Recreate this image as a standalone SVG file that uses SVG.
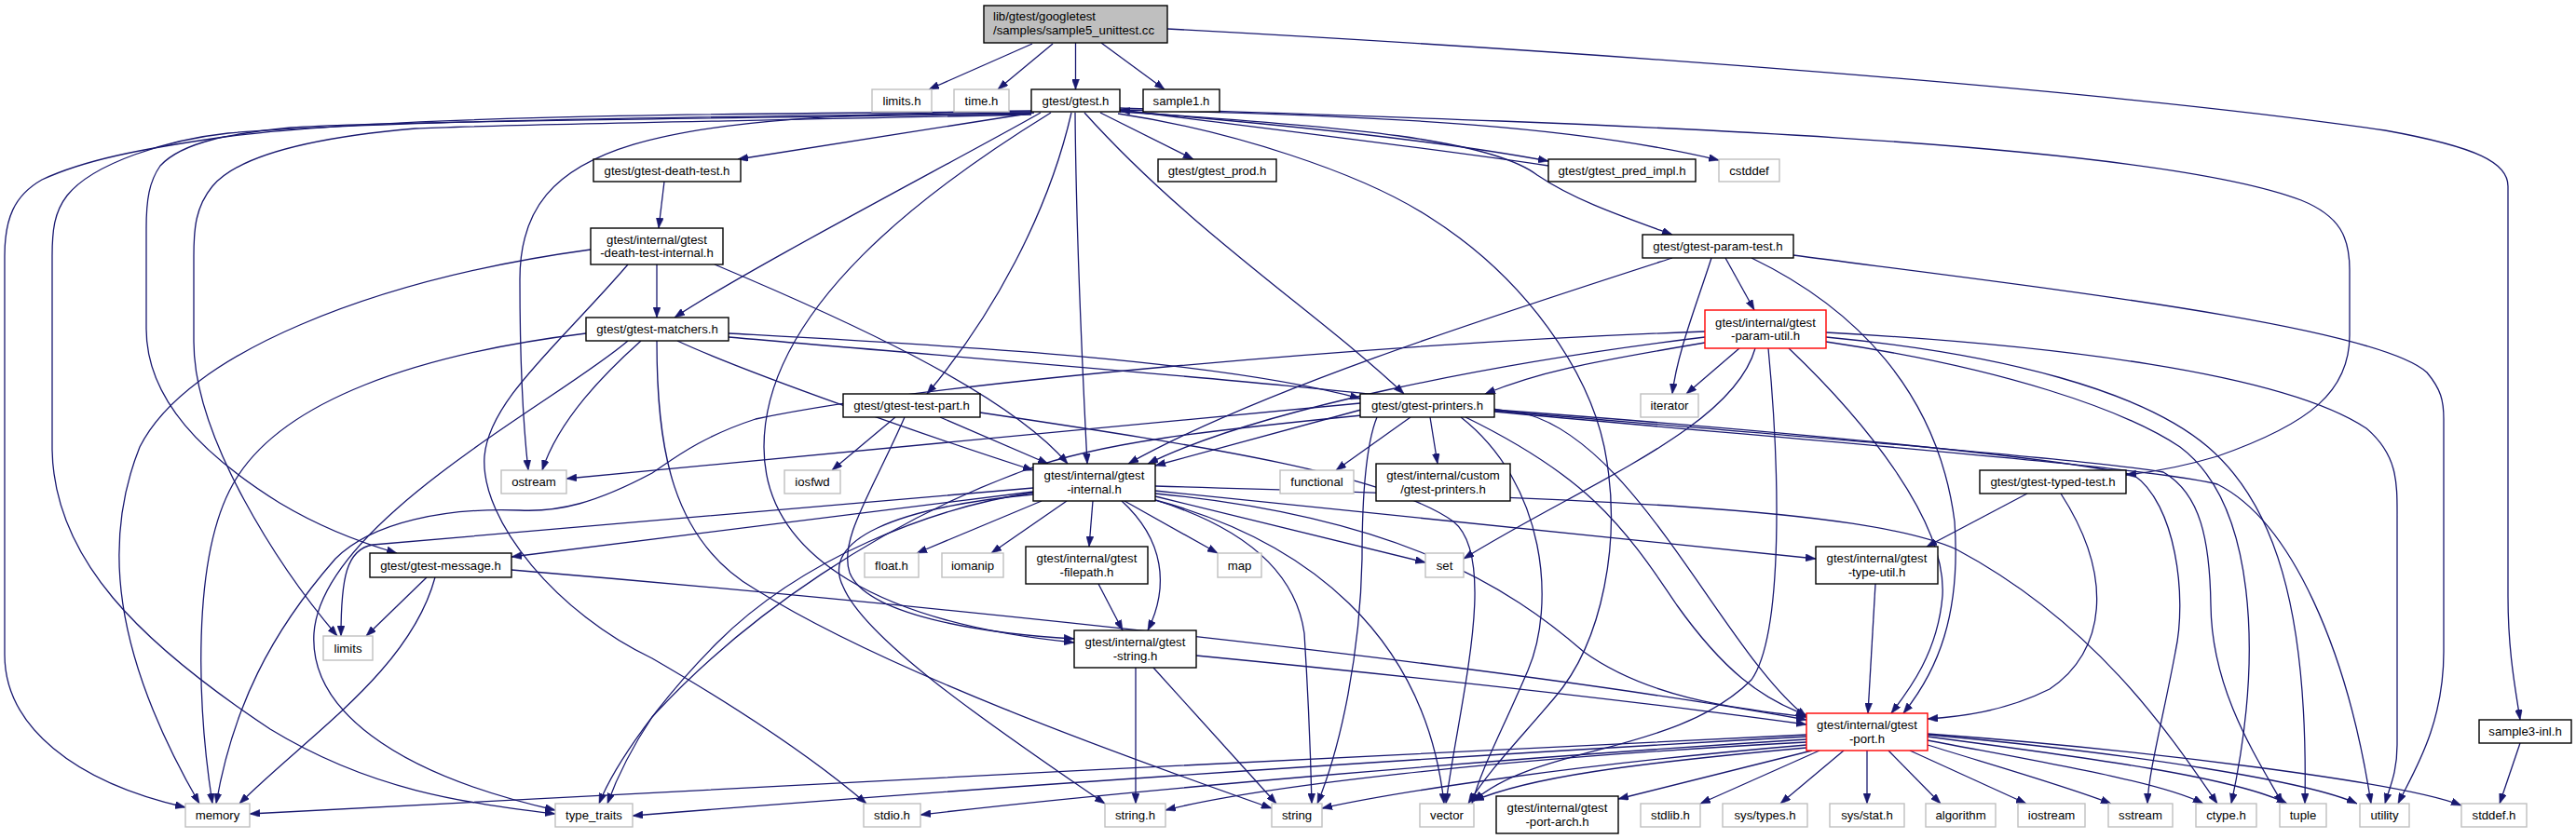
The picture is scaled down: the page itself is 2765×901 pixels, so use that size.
<svg xmlns="http://www.w3.org/2000/svg" width="2765" height="901" viewBox="0 0 2765 901">
<style>
.nd rect{fill:#fff;stroke:#000;stroke-width:1.4}
.nd.gr rect{stroke:#bfbfbf}
.nd.rd rect{stroke:#ff0000}
.nd.root rect{fill:#bfbfbf}
text{font-family:"Liberation Sans",Arial,Helvetica,sans-serif;font-size:13.2px;fill:#000;text-anchor:middle}
.root text{text-anchor:start}
#edges path{fill:none;stroke:#191970;stroke-width:1.3;marker-end:url(#a)}
</style>
<defs>
<marker id="a" viewBox="0 0 11 8" refX="11" refY="4" markerWidth="11" markerHeight="8" markerUnits="userSpaceOnUse" orient="auto"><path d="M0,0 L11,4 L0,8 z" fill="#191970" stroke="#191970" stroke-width="0.5"/></marker>
</defs>
<rect width="2765" height="901" fill="#fff"/>
<g id="edges">
<path d="M1108,47 L997,96"/>
<path d="M1130,47 L1071,96"/>
<path d="M1154.5,46 L1154.5,96"/>
<path d="M1182,46 L1250,96"/>
<path d="M1253,31 C1700,55 2250,95 2560,140 C2660,158 2692,175 2692,200 L2692,640 C2692,700 2700,740 2705,773"/>
<path d="M2705,798 L2683,863"/>
<path d="M1110,121 L792,171"/>
<path d="M1117,121 C1040,165 800,290 724,341"/>
<path d="M1150,121 C1125,230 1065,340 995,423"/>
<path d="M1154,121 C1155,250 1162,400 1167,498"/>
<path d="M1128,121 C1000,200 820,330 820,480 C820,600 950,670 1153,690"/>
<path d="M1107,119 C700,124 558,150 558,300 C558,400 562,460 567,505"/>
<path d="M1107,120 C700,122 400,126 241,147 C150,160 90,172 45,193 C15,210 5,235 5,275 L5,703 C5,780 80,840 199,867"/>
<path d="M1107,121 C800,125 400,129 245,143 C180,150 100,175 72,210 C58,228 56,248 56,275 L56,483 C58,600 150,690 290,783 C400,850 500,862 596,874"/>
<path d="M1107,122 C700,128 400,131 312,137 C250,143 196,152 172,178 C160,195 157,215 157,245 L157,353 C157,430 220,490 300,540 C350,570 395,585 426,594"/>
<path d="M1107,123 C800,130 520,134 446,138 C330,148 255,168 228,200 C210,222 208,245 208,275 L208,367 C208,470 300,610 362,683"/>
<path d="M1202,118 C1500,124 1700,137 1845,172"/>
<path d="M1202,119 C1400,136 1550,152 1662,173"/>
<path d="M1662,178 C1550,161 1400,143 1202,118"/>
<path d="M1181,121 L1281,171"/>
<path d="M1202,120 C1450,136 1600,150 1650,188 C1690,215 1740,232 1795,252"/>
<path d="M1202,116 C1700,132 2300,150 2470,215 C2512,232 2522,255 2522,290 L2522,360 C2522,420 2480,455 2380,490 C2340,502 2310,507 2282,510"/>
<path d="M1164,121 C1280,250 1420,340 1507,423"/>
<path d="M1200,122 C1320,140 1460,185 1534,233 C1640,300 1705,400 1722,480 C1742,580 1720,690 1668,750 C1630,795 1600,825 1576,863"/>
<path d="M713,195 L707,245"/>
<path d="M705,284 L705,341"/>
<path d="M767,284 C900,340 1080,420 1146,498"/>
<path d="M674,284 C600,370 525,430 520,490 C515,560 600,660 700,707 C800,765 880,820 930,863"/>
<path d="M634,268 C400,300 200,380 150,480 C110,580 120,700 214,863"/>
<path d="M629,358 C450,380 300,430 250,520 C205,600 212,760 228,863"/>
<path d="M688,366 C650,400 600,450 582,505"/>
<path d="M674,366 C600,430 345,560 337,680 C332,760 420,830 596,870"/>
<path d="M705,366 C705,480 720,580 811,633 C950,720 1200,810 1365,868"/>
<path d="M727,366 C800,400 1000,470 1109,505"/>
<path d="M782,358 C1000,370 1300,385 1460,428"/>
<path d="M782,362 C1100,390 1500,420 1640,445 C1760,480 1850,700 1939,770"/>
<path d="M961,448 L893,505"/>
<path d="M1009,448 L1125,498"/>
<path d="M1052,443 C1300,480 1490,510 1560,560 C1610,600 1565,760 1552,863"/>
<path d="M971,448 C935,530 900,580 912,615 C930,660 1050,680 1153,686"/>
<path d="M1109,531 C960,545 880,580 905,630 C930,690 1080,790 1186,863"/>
<path d="M1118,538 L984,594"/>
<path d="M1145,538 L1064,594"/>
<path d="M1173,538 L1169,587"/>
<path d="M1207,538 L1307,594"/>
<path d="M1204,538 C1250,580 1255,630 1232,677"/>
<path d="M1109,524 L400,585 C372,590 366,620 366,683"/>
<path d="M1109,528 L549,598"/>
<path d="M1109,529 C1000,545 860,600 770,690 C710,750 660,820 643,863"/>
<path d="M1240,533 C1350,560 1450,585 1530,604"/>
<path d="M1240,527 L1949,600"/>
<path d="M1240,522 C1700,535 2000,545 2100,590 C2250,670 2330,790 2380,863"/>
<path d="M1240,537 C1330,565 1390,610 1400,680 C1405,760 1407,820 1408,863"/>
<path d="M1240,537 C1400,580 1530,680 1550,863"/>
<path d="M1240,530 C1500,555 1620,630 1700,700 C1770,750 1860,760 1939,770"/>
<path d="M1179,627 L1205,677"/>
<path d="M1219,717 L1219,863"/>
<path d="M1238,717 L1370,863"/>
<path d="M1284,704 C1500,725 1750,752 1939,778"/>
<path d="M458,620 L393,683"/>
<path d="M467,620 C440,720 330,790 257,863"/>
<path d="M549,612 C1000,650 1600,712 1939,773"/>
<path d="M1514,448 L1434,505"/>
<path d="M1535,448 L1543,498"/>
<path d="M1461,440 L1240,500"/>
<path d="M1460,433 L608,514"/>
<path d="M1462,446 C1300,462 1180,475 1100,505 C950,560 800,660 700,770 C680,800 664,830 652,863"/>
<path d="M1478,448 C1465,480 1462,540 1462,600 C1460,700 1440,800 1414,863"/>
<path d="M1568,448 C1660,520 1670,650 1640,720 C1610,790 1590,825 1580,863"/>
<path d="M1573,448 C1700,510 1740,560 1800,650 C1850,720 1890,750 1939,768"/>
<path d="M1604,440 C1900,462 2200,490 2290,510 C2335,540 2348,640 2335,700 C2322,770 2306,830 2305,863"/>
<path d="M1604,441 C1900,466 2250,494 2322,507 C2362,530 2372,580 2373,650 C2374,740 2420,810 2450,863"/>
<path d="M1604,442 C1900,470 2300,500 2380,520 C2460,560 2520,700 2545,863"/>
<path d="M1852,277 L1883,333"/>
<path d="M1837,277 C1820,330 1800,380 1795,423"/>
<path d="M1795,277 C1600,340 1350,420 1211,498"/>
<path d="M1880,277 C1990,330 2080,420 2098,560 C2105,660 2080,720 2043,766"/>
<path d="M1925,274 C2200,310 2550,350 2605,400 C2620,418 2623,430 2623,450 L2623,700 C2623,780 2590,830 2574,863"/>
<path d="M1830,362 C1600,390 1350,440 1232,498"/>
<path d="M1830,368 C1700,390 1650,400 1594,423"/>
<path d="M1830,356 C1500,368 1000,410 811,450 C750,470 720,495 700,508 C640,540 600,550 558,548 C480,545 400,560 360,600 C290,680 250,760 232,863"/>
<path d="M1867,374 L1810,423"/>
<path d="M1884,374 C1860,460 1700,520 1571,600"/>
<path d="M1898,374 C1910,500 1915,680 1880,730 C1800,810 1650,800 1582,860"/>
<path d="M1920,374 C2000,450 2090,560 2085,640 C2080,700 2050,740 2030,766"/>
<path d="M1960,357 C2200,370 2450,400 2540,460 C2575,490 2573,520 2573,560 L2573,800 C2573,830 2565,845 2560,863"/>
<path d="M1960,362 C2150,380 2300,420 2370,480 C2440,540 2478,650 2474,863"/>
<path d="M1960,367 C2150,395 2280,440 2340,480 C2420,540 2430,700 2395,863"/>
<path d="M2013,627 L2005,766"/>
<path d="M2176,530 L2068,587"/>
<path d="M2212,530 C2270,620 2260,700 2200,740 C2150,765 2100,770 2069,772"/>
<path d="M1939,789 C1400,815 800,845 268,874"/>
<path d="M1939,791 C1500,815 1000,850 679,876"/>
<path d="M1939,794 C1600,815 1200,850 988,875"/>
<path d="M1939,797 C1600,815 1350,845 1251,870"/>
<path d="M1939,800 C1700,820 1500,850 1419,868"/>
<path d="M1939,803 C1750,820 1640,835 1582,860"/>
<path d="M1945,806 L1737,858"/>
<path d="M1953,806 L1825,863"/>
<path d="M1979,806 L1911,863"/>
<path d="M2004,806 L2004,863"/>
<path d="M2027,806 L2083,863"/>
<path d="M2050,806 L2175,863"/>
<path d="M2069,800 C2150,825 2220,845 2266,863"/>
<path d="M2069,795 C2200,820 2320,840 2365,863"/>
<path d="M2069,791 C2250,815 2400,835 2455,863"/>
<path d="M2069,789 C2300,810 2480,840 2530,863"/>
<path d="M2069,788 C2300,805 2580,840 2642,865"/>
</g>
<g id="n_main" class="nd root"><rect x="1056" y="6" width="197" height="40"/><text x="1066" y="22">lib/gtest/googletest</text><text x="1066" y="37.4">/samples/sample5_unittest.cc</text></g>
<g id="n_limits_h" class="nd gr"><rect x="936" y="96" width="64" height="24"/><text x="968" y="112.7">limits.h</text></g>
<g id="n_time_h" class="nd gr"><rect x="1024" y="96" width="59" height="24"/><text x="1053.5" y="112.7">time.h</text></g>
<g id="n_gtest_h" class="nd"><rect x="1107" y="96" width="95" height="24"/><text x="1154.5" y="112.7">gtest/gtest.h</text></g>
<g id="n_sample1" class="nd"><rect x="1227" y="96" width="82" height="24"/><text x="1268" y="112.7">sample1.h</text></g>
<g id="n_prod" class="nd"><rect x="1243" y="171" width="127" height="24"/><text x="1306.5" y="187.7">gtest/gtest_prod.h</text></g>
<g id="n_death" class="nd"><rect x="637" y="171" width="158" height="24"/><text x="716" y="187.7">gtest/gtest-death-test.h</text></g>
<g id="n_dti" class="nd"><rect x="634" y="245" width="142" height="39"/><text x="705" y="261.7">gtest/internal/gtest</text><text x="705" y="276.2">-death-test-internal.h</text></g>
<g id="n_matchers" class="nd"><rect x="629" y="341" width="153" height="25"/><text x="705.5" y="358.2">gtest/gtest-matchers.h</text></g>
<g id="n_testpart" class="nd"><rect x="905" y="423" width="147" height="25"/><text x="978.5" y="440.2">gtest/gtest-test-part.h</text></g>
<g id="n_pred" class="nd"><rect x="1662" y="171" width="158" height="24"/><text x="1741" y="187.7">gtest/gtest_pred_impl.h</text></g>
<g id="n_cstddef" class="nd gr"><rect x="1845" y="171" width="65" height="24"/><text x="1877.5" y="187.7">cstddef</text></g>
<g id="n_paramtest" class="nd"><rect x="1763" y="252" width="162" height="25"/><text x="1844" y="269.2">gtest/gtest-param-test.h</text></g>
<g id="n_paramutil" class="nd rd"><rect x="1830" y="333" width="130" height="41"/><text x="1895" y="350.7">gtest/internal/gtest</text><text x="1895" y="365.2">-param-util.h</text></g>
<g id="n_iterator" class="nd gr"><rect x="1761" y="423" width="62" height="25"/><text x="1792" y="440.2">iterator</text></g>
<g id="n_printers" class="nd"><rect x="1460" y="423" width="144" height="25"/><text x="1532" y="440.2">gtest/gtest-printers.h</text></g>
<g id="n_ostream" class="nd gr"><rect x="538" y="505" width="70" height="25"/><text x="573" y="522.2">ostream</text></g>
<g id="n_iosfwd" class="nd gr"><rect x="842" y="505" width="60" height="25"/><text x="872" y="522.2">iosfwd</text></g>
<g id="n_internal" class="nd"><rect x="1109" y="498" width="131" height="40"/><text x="1174.5" y="515.2">gtest/internal/gtest</text><text x="1174.5" y="529.7">-internal.h</text></g>
<g id="n_functional" class="nd gr"><rect x="1374" y="505" width="79" height="25"/><text x="1413.5" y="522.2">functional</text></g>
<g id="n_custom" class="nd"><rect x="1477" y="498" width="144" height="40"/><text x="1549" y="515.2">gtest/internal/custom</text><text x="1549" y="529.7">/gtest-printers.h</text></g>
<g id="n_typed" class="nd"><rect x="2125" y="505" width="157" height="25"/><text x="2203.5" y="522.2">gtest/gtest-typed-test.h</text></g>
<g id="n_message" class="nd"><rect x="397" y="594" width="152" height="26"/><text x="473" y="611.7">gtest/gtest-message.h</text></g>
<g id="n_float" class="nd gr"><rect x="928" y="594" width="58" height="26"/><text x="957" y="611.7">float.h</text></g>
<g id="n_iomanip" class="nd gr"><rect x="1011" y="594" width="66" height="26"/><text x="1044" y="611.7">iomanip</text></g>
<g id="n_filepath" class="nd"><rect x="1101" y="587" width="131" height="40"/><text x="1166.5" y="604.2">gtest/internal/gtest</text><text x="1166.5" y="618.7">-filepath.h</text></g>
<g id="n_map" class="nd gr"><rect x="1307" y="594" width="47" height="26"/><text x="1330.5" y="611.7">map</text></g>
<g id="n_set" class="nd gr"><rect x="1530" y="594" width="41" height="26"/><text x="1550.5" y="611.7">set</text></g>
<g id="n_typeutil" class="nd"><rect x="1949" y="587" width="131" height="40"/><text x="2014.5" y="604.2">gtest/internal/gtest</text><text x="2014.5" y="618.7">-type-util.h</text></g>
<g id="n_limits" class="nd gr"><rect x="347" y="683" width="53" height="26"/><text x="373.5" y="700.7">limits</text></g>
<g id="n_gstring" class="nd"><rect x="1153" y="677" width="131" height="40"/><text x="1218.5" y="694.2">gtest/internal/gtest</text><text x="1218.5" y="708.7">-string.h</text></g>
<g id="n_port" class="nd rd"><rect x="1939" y="766" width="130" height="40"/><text x="2004" y="783.2">gtest/internal/gtest</text><text x="2004" y="797.7">-port.h</text></g>
<g id="n_sample3" class="nd"><rect x="2661" y="773" width="99" height="25"/><text x="2710.5" y="790.2">sample3-inl.h</text></g>
<g id="n_memory" class="nd gr"><rect x="199" y="863" width="69" height="25"/><text x="233.5" y="880.2">memory</text></g>
<g id="n_type_traits" class="nd gr"><rect x="596" y="863" width="83" height="25"/><text x="637.5" y="880.2">type_traits</text></g>
<g id="n_stdio" class="nd gr"><rect x="927" y="863" width="61" height="25"/><text x="957.5" y="880.2">stdio.h</text></g>
<g id="n_string_h" class="nd gr"><rect x="1186" y="863" width="65" height="25"/><text x="1218.5" y="880.2">string.h</text></g>
<g id="n_string" class="nd gr"><rect x="1365" y="863" width="54" height="25"/><text x="1392" y="880.2">string</text></g>
<g id="n_vector" class="nd gr"><rect x="1524" y="863" width="58" height="25"/><text x="1553" y="880.2">vector</text></g>
<g id="n_portarch" class="nd"><rect x="1606" y="855" width="131" height="40"/><text x="1671.5" y="872.2">gtest/internal/gtest</text><text x="1671.5" y="886.7">-port-arch.h</text></g>
<g id="n_stdlib" class="nd gr"><rect x="1761" y="863" width="64" height="25"/><text x="1793" y="880.2">stdlib.h</text></g>
<g id="n_systypes" class="nd gr"><rect x="1849" y="863" width="91" height="25"/><text x="1894.5" y="880.2">sys/types.h</text></g>
<g id="n_sysstat" class="nd gr"><rect x="1964" y="863" width="80" height="25"/><text x="2004" y="880.2">sys/stat.h</text></g>
<g id="n_algorithm" class="nd gr"><rect x="2067" y="863" width="75" height="25"/><text x="2104.5" y="880.2">algorithm</text></g>
<g id="n_iostream" class="nd gr"><rect x="2166" y="863" width="72" height="25"/><text x="2202" y="880.2">iostream</text></g>
<g id="n_sstream" class="nd gr"><rect x="2263" y="863" width="69" height="25"/><text x="2297.5" y="880.2">sstream</text></g>
<g id="n_ctype" class="nd gr"><rect x="2357" y="863" width="65" height="25"/><text x="2389.5" y="880.2">ctype.h</text></g>
<g id="n_tuple" class="nd gr"><rect x="2447" y="863" width="50" height="25"/><text x="2472" y="880.2">tuple</text></g>
<g id="n_utility" class="nd gr"><rect x="2533" y="863" width="53" height="25"/><text x="2559.5" y="880.2">utility</text></g>
<g id="n_stddef" class="nd gr"><rect x="2642" y="863" width="70" height="25"/><text x="2677" y="880.2">stddef.h</text></g>
</svg>
